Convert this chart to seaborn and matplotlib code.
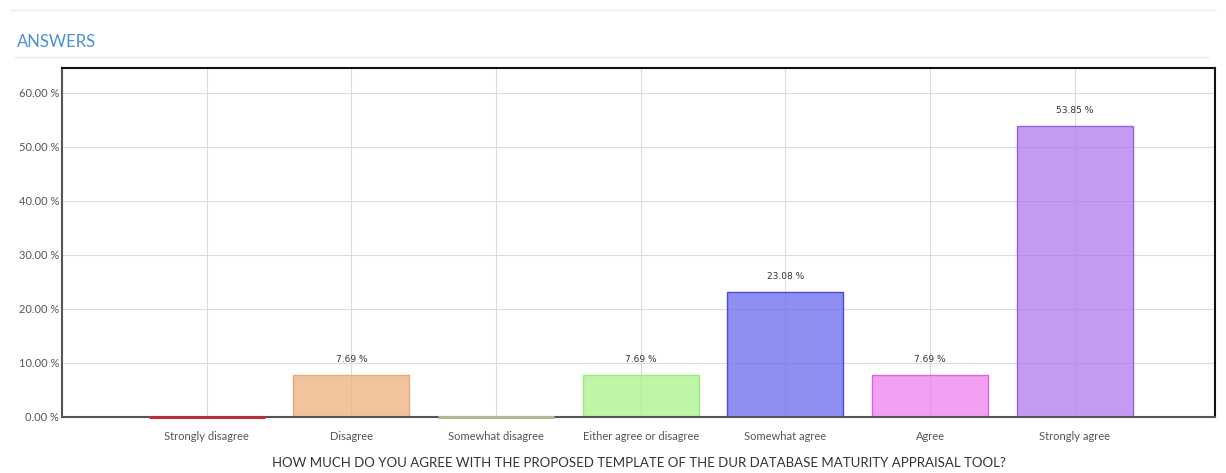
import matplotlib
matplotlib.use("Agg")
import matplotlib.pyplot as plt
import seaborn as sns
import pandas as pd
from matplotlib.lines import Line2D

# data
categories = ["Strongly disagree", "Disagree", "Somewhat disagree",
              "Either agree or disagree", "Somewhat agree", "Agree", "Strongly agree"]
percent = [0.0, 7.69, 0.0, 7.69, 23.08, 7.69, 53.85]
fill_colors = ["#e06a6a", "#eeb07e", "#c9d3a8", "#aaf288", "#6a6aee", "#ee80ee", "#b07af0"]
edge_colors = ["#b83040", "#e8a878", "#b0b890", "#a0e880", "#4a4ae0", "#e060e0", "#9a60e0"]
y_ticks = [0, 10, 20, 30, 40, 50, 60]

df = pd.DataFrame({"answer": categories, "percent": percent})

sns.set_style("white")
plt.rcParams["font.family"] = ["Lato", "DejaVu Sans"]

fig = plt.figure(figsize=(12.26, 4.73), dpi=100)
ax = fig.add_axes([0.0506, 0.1184, 0.9404, 0.7378])

sns.barplot(data=df, x="answer", y="percent", hue="answer", palette=fill_colors,
            legend=False, width=0.8, saturation=1, ax=ax)

ax.set_axisbelow(True)
ax.xaxis.grid(True, color="#dcdcdc", linewidth=0.8)
ax.yaxis.grid(True, color="#dcdcdc", linewidth=0.8)

for patch, ec, v in zip(ax.patches, edge_colors, percent):
    fc = patch.get_facecolor()
    patch.set_facecolor((fc[0], fc[1], fc[2], 0.75))
    patch.set_edgecolor(ec)
    if v == 0:
        patch.set_linewidth(2.2)
        patch.set_zorder(4)
        patch.set_clip_on(False)
    else:
        patch.set_linewidth(1.0)

for c, v in zip(ax.containers, percent):
    if v > 0:
        ax.bar_label(c, labels=[f"{v:.2f} %"], padding=8, fontsize=6.5,
                     color="#333333", family="DejaVu Sans")

ax.set_xlim(-1.0, 6.97)
ax.set_ylim(0, 64.6)
ax.set_yticks(y_ticks)
ax.set_yticklabels([f"{t:.2f} %" for t in y_ticks], fontsize=8, color="#555555")
ax.tick_params(axis="x", labelsize=8, labelcolor="#555555", length=0, pad=10)
ax.tick_params(axis="y", length=0, pad=2)
ax.set_xlabel("HOW MUCH DO YOU AGREE WITH THE PROPOSED TEMPLATE OF THE DUR DATABASE MATURITY APPRAISAL TOOL?",
              fontsize=9.5, color="#333333", labelpad=11)
ax.set_ylabel("")

for side in ["top", "right"]:
    ax.spines[side].set_color("#111111")
    ax.spines[side].set_linewidth(1.5)
for side in ["left", "bottom"]:
    ax.spines[side].set_color("#555555")
    ax.spines[side].set_linewidth(1.5)

# card header
fig.text(0.0139, 0.912, "ANSWERS", fontsize=12, color="#4a90d9", ha="left", va="center")
fig.add_artist(Line2D([0.012, 0.985], [0.879, 0.879], color="#e8e8e8", linewidth=1.0))
fig.add_artist(Line2D([0.008, 0.992], [0.978, 0.978], color="#eeeeee", linewidth=1.0))

fig.savefig("out.png", dpi=100)
